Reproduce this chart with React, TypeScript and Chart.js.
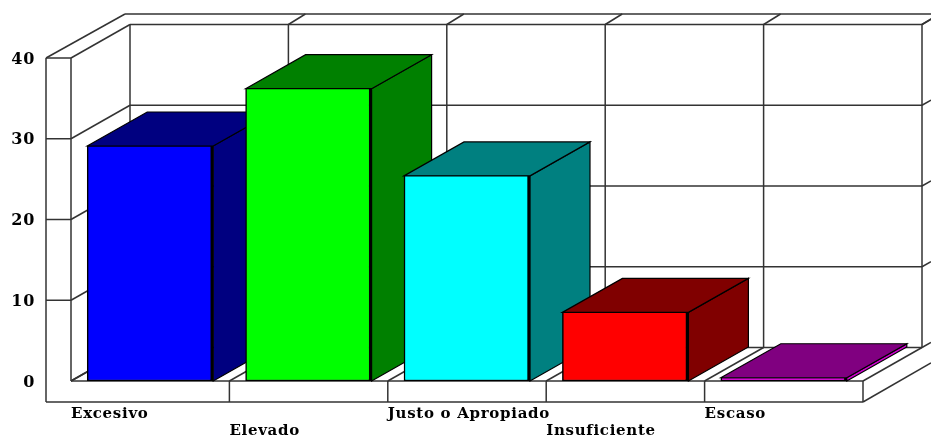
import React, { useEffect, useRef } from "react";
import { Chart, registerables } from "chart.js";

Chart.register(...registerables);

const categories = ["Excesivo", "Elevado", "Justo o Apropiado", "Insuficiente", "Escaso"];
const values = [29.1, 36.2, 25.4, 8.5, 0.4];
const frontColors = ["#0000ff", "#00ff00", "#00ffff", "#ff0000", "#ff00ff"];
const sideColors = ["#000080", "#008000", "#008080", "#800000", "#d000d0"];
const topColors = ["#000080", "#008000", "#008080", "#800000", "#800080"];
const yTicks = [0, 10, 20, 30, 40];

const WALL = { dx: 59, dy: -33.5 };
const BAR = { dx: 60, dy: -34 };
const LINE = "#333";

function seg(ctx: CanvasRenderingContext2D, a: number, b: number, c: number, d: number) {
  ctx.beginPath();
  ctx.moveTo(a, b);
  ctx.lineTo(c, d);
  ctx.stroke();
}

const box3d = {
  id: "box3d",
  beforeDraw(chart: any) {
    chart.ctx.letterSpacing = "0.7px";
  },
  beforeDatasetsDraw(chart: any) {
    const { ctx, scales } = chart;
    const x = scales.x;
    const y = scales.y;
    const L = chart.chartArea.left;
    const R = chart.chartArea.right;
    const B = y.getPixelForValue(0);
    const T = y.getPixelForValue(40);
    const outerL = L - 25;
    const outerB = B + 21;
    const topOuter = T - 44;
    ctx.save();
    ctx.strokeStyle = LINE;
    ctx.lineWidth = 1.5;

    // Outer frame: left block, floor block and top rim
    seg(ctx, outerL, T, outerL, outerB);
    seg(ctx, outerL, outerB, R, outerB);
    seg(ctx, R, B, R, outerB);
    seg(ctx, L, T, outerL, T);
    seg(ctx, L, T, L, B);
    seg(ctx, outerL, T, outerL + 79, topOuter);
    seg(ctx, outerL + 79, topOuter, chart.width, topOuter);
    seg(ctx, R, outerB, chart.width, outerB - 39);
    seg(ctx, L, B, R, B);

    // Value lines: left wall ledge, left wall diagonal, back wall, right stub
    for (const v of yTicks) {
      const py = y.getPixelForValue(v);
      if (v !== 0 && v !== 40) seg(ctx, outerL, py, L, py);
      seg(ctx, L, py, L + WALL.dx, py + WALL.dy);
      seg(ctx, L + WALL.dx, py + WALL.dy, R + WALL.dx, py + WALL.dy);
      seg(ctx, R + WALL.dx, py + WALL.dy, chart.width, py + WALL.dy - (chart.width - R - WALL.dx) * 0.57);
    }

    // Category lines: floor separators, floor diagonals, back wall verticals, top stubs
    const step = (R - L) / categories.length;
    for (let i = 0; i <= categories.length; i++) {
      const cx = x.getPixelForValue(i) - step / 2;
      if (i > 0 && i < categories.length) seg(ctx, cx, B, cx, outerB);
      seg(ctx, cx, B, cx + WALL.dx, B + WALL.dy);
      seg(ctx, cx + WALL.dx, T + WALL.dy, cx + WALL.dx, B + WALL.dy);
      if (i > 0) seg(ctx, cx + WALL.dx, T + WALL.dy, cx + WALL.dx + 17, topOuter);
    }

    // Side and top faces of the bars, from the library's own bar geometry
    const bars = chart.getDatasetMeta(0).data;
    bars.forEach((bar: any, i: number) => {
      const left = bar.x - bar.width / 2;
      const right = bar.x + bar.width / 2;
      const top = bar.y;
      const base = bar.base;
      ctx.lineWidth = 1.2;
      ctx.strokeStyle = "#000";
      ctx.fillStyle = sideColors[i];
      ctx.beginPath();
      ctx.moveTo(right, top);
      ctx.lineTo(right + BAR.dx, top + BAR.dy);
      ctx.lineTo(right + BAR.dx, base + BAR.dy);
      ctx.lineTo(right, base);
      ctx.closePath();
      ctx.fill();
      ctx.stroke();
      ctx.fillStyle = topColors[i];
      ctx.beginPath();
      ctx.moveTo(left, top);
      ctx.lineTo(left + BAR.dx, top + BAR.dy);
      ctx.lineTo(right + BAR.dx, top + BAR.dy);
      ctx.lineTo(right, top);
      ctx.closePath();
      ctx.fill();
      ctx.stroke();
    });
    ctx.restore();
  },
};

export default function App() {
  const ref = useRef<HTMLCanvasElement | null>(null);
  useEffect(() => {
    if (!ref.current) return;
    const chart = new Chart(ref.current, {
      type: "bar",
      data: {
        labels: categories,
        datasets: [
          {
            data: values,
            backgroundColor: frontColors,
            borderColor: "#000",
            borderWidth: { top: 1, left: 1.5, right: 3, bottom: 1.5 },
            borderSkipped: false,
            barThickness: 126,
          },
        ],
      },
      plugins: [box3d],
      options: {
        responsive: false,
        animation: false,
        layout: { autoPadding: false, padding: { top: 58, right: 68, left: 0, bottom: 0 } },
        plugins: { legend: { display: false }, tooltip: { enabled: false }, title: { display: false } },
        scales: {
          x: {
            type: "category",
            border: { display: false },
            grid: { display: false, drawTicks: false },
            afterFit(s: any) {
              s.height = 56;
            },
            ticks: {
              autoSkip: false,
              maxRotation: 0,
              minRotation: 0,
              align: "start",
              labelOffset: -79.2,
              padding: 25,
              color: "#000",
              font: { family: "'DejaVu Serif'", weight: "bold", size: 15, lineHeight: 17 / 15 },
              callback(_v: any, i: number) {
                return i % 2 ? ["", categories[i]] : [categories[i], ""];
              },
            },
          },
          y: {
            min: 0,
            max: 40,
            border: { display: false },
            grid: { display: false, drawTicks: false },
            afterFit(s: any) {
              s.width = 71;
            },
            ticks: {
              stepSize: 10,
              padding: 36,
              labelOffset: 1.5,
              color: "#000",
              font: { family: "'DejaVu Serif'", weight: "bold", size: 16 },
            },
          },
        },
      },
    } as any);
    return () => chart.destroy();
  }, []);
  return (
    <canvas
      ref={ref}
      width={931}
      height={437}
      style={{
        position: "absolute",
        left: 0,
        top: 0,
        width: 931,
        height: 437,
        background: "#fff",
        filter: "blur(0.4px)",
      }}
    />
  );
}
